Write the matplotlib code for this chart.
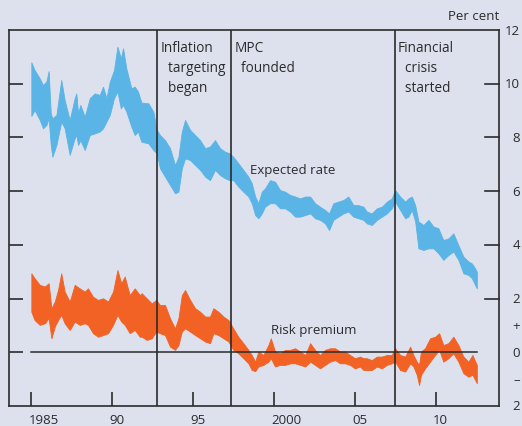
import matplotlib
matplotlib.use("Agg")
import matplotlib.pyplot as plt
import matplotlib.transforms as mtransforms

plt.rcParams['font.family'] = ['Open Sans', 'DejaVu Sans']

# expected rate band (upper / lower edge), per cent
exp_years = [1985.00, 1985.20, 1985.52, 1985.72, 1985.93, 1986.07, 1986.20, 1986.30, 1986.55, 1986.85,
             1987.06, 1987.37, 1987.68, 1987.78, 1987.89, 1988.03, 1988.30, 1988.61, 1988.92, 1989.23,
             1989.43, 1989.64, 1989.85, 1990.11, 1990.32, 1990.53, 1990.67, 1990.87, 1991.18, 1991.39,
             1991.59, 1991.80, 1992.23, 1992.54, 1992.75, 1992.95, 1993.26, 1993.57, 1993.88, 1994.09,
             1994.30, 1994.50, 1994.81, 1995.12, 1995.43, 1995.74, 1996.04, 1996.35, 1996.66, 1996.97,
             1997.24, 1997.48, 1997.79, 1998.10, 1998.41, 1998.62, 1998.83, 1999.03, 1999.24, 1999.44,
             1999.75, 2000.06, 2000.37, 2000.68, 2000.99, 2001.30, 2001.61, 2001.92, 2002.23, 2002.53,
             2002.84, 2003.15, 2003.40, 2003.66, 2003.97, 2004.28, 2004.59, 2004.90, 2005.21, 2005.52,
             2005.73, 2006.04, 2006.35, 2006.66, 2006.97, 2007.27, 2007.48, 2007.79, 2008.10, 2008.30,
             2008.51, 2008.72, 2008.92, 2009.23, 2009.54, 2009.85, 2010.15, 2010.46, 2010.77, 2011.08,
             2011.39, 2011.70, 2012.01, 2012.22, 2012.42, 2012.53]
exp_high = [10.80, 10.51, 10.20, 9.95, 10.08, 10.47, 8.90, 8.71, 8.84, 10.14,
            9.39, 8.65, 9.46, 9.64, 8.90, 9.21, 8.77, 9.46, 9.64, 9.58,
            9.89, 9.46, 10.08, 10.51, 11.38, 10.95, 11.32, 10.57, 9.83, 9.89,
            9.71, 9.30, 9.27, 8.96, 8.28, 8.09, 7.90, 7.60, 6.97, 7.28,
            8.22, 8.65, 8.28, 8.09, 7.90, 7.60, 7.66, 7.90, 7.60, 7.47,
            7.41, 7.28, 7.04, 6.79, 6.54, 6.30, 5.80, 5.55, 5.98, 6.10,
            6.41, 6.35, 6.04, 5.98, 5.86, 5.80, 5.73, 5.80, 5.80, 5.55,
            5.42, 5.30, 5.17, 5.55, 5.61, 5.67, 5.80, 5.48, 5.48, 5.42,
            5.24, 5.17, 5.36, 5.42, 5.61, 5.73, 6.04, 5.80, 5.61, 5.73,
            5.80, 5.48, 4.87, 4.74, 4.93, 4.68, 4.62, 4.18, 4.24, 4.43,
            3.99, 3.56, 3.38, 3.31, 3.13, 3.00]
exp_low = [8.80, 9.02, 8.65, 8.34, 8.46, 8.71, 7.72, 7.28, 7.72, 8.59,
           8.34, 7.35, 7.97, 8.09, 7.72, 7.90, 7.53, 8.09, 8.15, 8.22,
           8.34, 8.59, 8.84, 9.46, 9.71, 9.08, 9.21, 8.96, 8.40, 8.09,
           8.22, 7.84, 7.78, 7.53, 7.41, 6.85, 6.54, 6.23, 5.92, 5.98,
           6.85, 7.22, 7.16, 6.97, 6.79, 6.54, 6.41, 6.79, 6.60, 6.48,
           6.41, 6.41, 6.17, 5.98, 5.80, 5.55, 5.11, 4.99, 5.17, 5.42,
           5.55, 5.55, 5.36, 5.36, 5.24, 5.05, 5.05, 5.11, 5.17, 4.99,
           4.93, 4.80, 4.55, 4.93, 5.05, 5.17, 5.24, 5.05, 4.99, 4.93,
           4.80, 4.74, 4.93, 5.05, 5.17, 5.36, 5.61, 5.30, 4.99, 5.05,
           5.30, 4.87, 3.87, 3.81, 3.87, 3.87, 3.69, 3.44, 3.62, 3.75,
           3.44, 2.94, 2.88, 2.76, 2.51, 2.38]

# risk premium band (upper / lower edge), percentage points
risk_years = [1985.00, 1985.20, 1985.52, 1985.83, 1986.07, 1986.24, 1986.45, 1986.65, 1986.85, 1987.06,
              1987.37, 1987.68, 1987.99, 1988.30, 1988.50, 1988.81, 1989.12, 1989.43, 1989.74, 1990.05,
              1990.32, 1990.56, 1990.77, 1991.08, 1991.39, 1991.70, 1991.82, 1992.13, 1992.44, 1992.71,
              1992.95, 1993.26, 1993.57, 1993.88, 1994.09, 1994.30, 1994.50, 1994.81, 1995.12, 1995.43,
              1995.74, 1996.04, 1996.25, 1996.56, 1996.87, 1997.18, 1997.48, 1997.79, 1998.10, 1998.41,
              1998.62, 1998.83, 1999.03, 1999.34, 1999.65, 1999.80, 2000.06, 2000.37, 2000.68, 2000.99,
              2001.30, 2001.61, 2001.92, 2002.23, 2002.53, 2002.84, 2003.15, 2003.46, 2003.77, 2004.07,
              2004.38, 2004.69, 2005.00, 2005.31, 2005.52, 2005.73, 2006.04, 2006.35, 2006.66, 2006.97,
              2007.27, 2007.48, 2007.79, 2008.10, 2008.41, 2008.61, 2008.82, 2008.96, 2009.08, 2009.33,
              2009.64, 2009.95, 2010.20, 2010.46, 2010.77, 2011.08, 2011.39, 2011.70, 2012.01, 2012.26,
              2012.53]
risk_high = [2.94, 2.76, 2.51, 2.45, 2.57, 1.64, 1.89, 2.32, 2.94, 2.26,
             1.89, 2.51, 2.38, 2.26, 2.38, 2.07, 1.95, 2.01, 1.89, 2.26,
             3.06, 2.57, 2.82, 2.13, 2.38, 2.13, 2.20, 2.01, 1.82, 1.95,
             1.76, 1.76, 1.27, 0.89, 1.27, 2.13, 2.32, 1.95, 1.64, 1.51,
             1.33, 1.33, 1.64, 1.51, 1.33, 1.20, 0.89, 0.58, 0.34, 0.09,
             -0.10, -0.35, 0.03, -0.10, 0.27, 0.52, 0.03, -0.04, 0.09, 0.09,
             0.15, 0.03, -0.10, 0.34, 0.09, -0.10, 0.09, 0.15, 0.15, 0.03,
             0.03, -0.10, -0.22, -0.16, -0.22, -0.22, -0.29, -0.16, -0.16, -0.10,
             -0.10, 0.15, -0.10, -0.16, 0.21, -0.10, -0.35, -0.47, 0.03, 0.15,
             0.52, 0.58, 0.71, 0.27, 0.34, 0.58, 0.27, -0.16, -0.35, -0.10,
             -0.47]
risk_low = [1.51, 1.20, 1.02, 1.08, 1.27, 0.52, 0.96, 1.20, 1.39, 1.08,
            0.83, 1.14, 1.02, 1.08, 1.02, 0.71, 0.58, 0.64, 0.71, 1.02,
            1.39, 1.14, 1.02, 0.71, 0.83, 0.58, 0.58, 0.46, 0.52, 0.77,
            0.71, 0.64, 0.21, 0.09, 0.27, 0.77, 0.89, 0.77, 0.64, 0.52,
            0.40, 0.34, 0.71, 0.64, 0.52, 0.40, 0.09, -0.04, -0.22, -0.41,
            -0.66, -0.70, -0.53, -0.47, -0.35, -0.22, -0.53, -0.47, -0.47, -0.41,
            -0.41, -0.47, -0.53, -0.35, -0.47, -0.60, -0.47, -0.35, -0.29, -0.41,
            -0.41, -0.47, -0.60, -0.53, -0.66, -0.66, -0.66, -0.53, -0.60, -0.47,
            -0.41, -0.35, -0.66, -0.72, -0.41, -0.53, -0.84, -1.22, -0.84, -0.60,
            -0.35, -0.10, 0.09, -0.35, -0.22, -0.04, -0.35, -0.78, -0.91, -0.84,
            -1.15]

events = [1992.79, 1997.35, 2007.46]
event_labels = ["Inflation\n  targeting\n  began", "MPC\n  founded", "Financial\n  crisis\n  started"]
x_ticks = [1985, 1990, 1995, 2000, 2005, 2010]
x_labels = ["1985", "90", "95", "2000", "05", "10"]
y_marks = [0, 2, 4, 6, 8, 10]
right_vals = [12, 10, 8, 6, 4, 2, 1, 0, -1, -2]
right_text = ["12", "10", "8", "6", "4", "2", "+", "0", "\u2013", "2"]

bg = '#dde1ee'
blue = '#5ab4e5'
orange = '#f26224'
ink = '#2b2b2b'

fig = plt.figure(figsize=(5.22, 4.27), dpi=100, facecolor=bg)
ax = fig.add_axes([9 / 522, 20 / 427, 490 / 522, 376 / 427], facecolor=bg)
ax.set_xlim(1983.62, 2013.9)
ax.set_ylim(-2, 12)

ax.fill_between(exp_years, exp_low, exp_high, color=blue, lw=0.6, edgecolor=blue, zorder=2)
ax.fill_between(risk_years, risk_low, risk_high, color=orange, lw=0.6, edgecolor=orange, zorder=2)

ax.plot([1985.0, 2012.55], [0, 0], color=ink, lw=1.1, zorder=3)
for ev in events:
    ax.axvline(ev, color=ink, lw=1.2, zorder=3)

for sp in ax.spines.values():
    sp.set_color(ink)
    sp.set_linewidth(1.2)

ax.set_yticks(y_marks)
ax.tick_params(axis='y', direction='in', length=10, width=1.2, color=ink,
               left=True, right=False, labelleft=False)
ax.set_xticks(x_ticks)
ax.set_xticklabels(x_labels)
ax.tick_params(axis='x', direction='in', length=10, width=1.2, color=ink,
               labelsize=9.5, labelcolor=ink, pad=5)
shift = mtransforms.ScaledTranslation(-3 / 100, 0, fig.dpi_scale_trans)
for lab in ax.get_xticklabels():
    lab.set_horizontalalignment('left')
    lab.set_transform(lab.get_transform() + shift)

# right-hand tick marks (no mark at zero)
for v in y_marks[1:]:
    ax.plot([1 - 14 / 490, 1], [v, v], color=ink, lw=1.2,
            transform=ax.get_yaxis_transform(), clip_on=False, zorder=3)

right_tr = mtransforms.blended_transform_factory(fig.transFigure, ax.transData)
for v, t in zip(right_vals, right_text):
    ax.text(520 / 522, v, t, transform=right_tr, ha='right', va='center',
            fontsize=9.5, color=ink)

ax.text(1.0, 1.02, "Per cent", transform=ax.transAxes, ha='right', va='bottom',
        fontsize=9.5, color=ink)

for ev, lab in zip(events, event_labels):
    ax.text(ev + 0.2, 11.62, lab, ha='left', va='top', fontsize=9.8, color=ink, linespacing=1.45)

ax.text(1998.5, 6.8, "Expected rate", ha='left', va='center', fontsize=9.5, color=ink)
ax.text(1999.8, 0.83, "Risk premium", ha='left', va='center', fontsize=9.5, color=ink)

fig.savefig("out.png", dpi=100, facecolor=bg)
